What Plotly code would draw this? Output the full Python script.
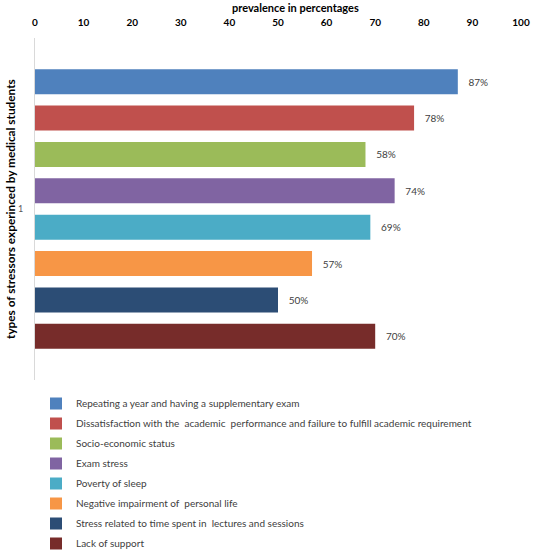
import plotly.graph_objects as go

categories = ["1"]
stressors = [
    "Repeating a year and having a supplementary exam",
    "Dissatisfaction with the  academic  performance and failure to fulfill academic requirement",
    "Socio-economic status",
    "Exam stress",
    "Poverty of sleep",
    "Negative impairment of  personal life",
    "Stress related to time spent in  lectures and sessions",
    "Lack of support",
]
values = [87, 78, 68, 74, 69, 57, 50, 70]
value_labels = ["87%", "78%", "58%", "74%", "69%", "57%", "50%", "70%"]
colors = ["#4F81BD", "#C0504D", "#9BBB59", "#8064A2", "#4BACC6", "#F79646", "#2C4D75", "#772C2A"]
x_ticks = [0, 10, 20, 30, 40, 50, 60, 70, 80, 90, 100]

FONT = "Lato, 'Open Sans', sans-serif"
W, H = 533, 553
ML, MR, MT, MB = 35, 12, 38, 173

fig = go.Figure()
for name, v, lab, c in zip(stressors, values, value_labels, colors):
    fig.add_trace(go.Bar(
        y=categories, x=[v], name=name, orientation="h",
        marker=dict(color=c, line=dict(width=0)),
        text=["   " + lab], textposition="outside", cliponaxis=False,
        textfont=dict(size=10, color="#404040", family=FONT),
        legendgroup=name,
    ))

fig.update_layout(
    width=W, height=H,
    margin=dict(l=ML, r=MR, t=MT, b=MB, autoexpand=False),
    paper_bgcolor="white", plot_bgcolor="white",
    barmode="group", bargap=0.149, bargroupgap=0.313,
    font=dict(family=FONT, color="#404040"),
    xaxis=dict(
        side="top", range=[0, 100], tickvals=x_ticks,
        ticktext=["<b>%d</b>" % t for t in x_ticks],
        tickfont=dict(size=10, color="#000000"),
        showgrid=False, zeroline=False, showline=False,
        ticks="outside", ticklen=7, tickcolor="rgba(0,0,0,0)",
        automargin=False,
    ),
    yaxis=dict(
        autorange="reversed", showgrid=False, zeroline=False,
        showline=True, linecolor="#D9D9D9", linewidth=1,
        ticks="outside", ticklen=9, tickcolor="rgba(0,0,0,0)",
        tickfont=dict(size=9, color="#595959"), automargin=False,
    ),
    annotations=[
        dict(text="<b>prevalence in percentages</b>", xref="paper", yref="paper",
             x=(295 - ML) / (W - ML - MR), y=1 + (MT - 7) / (H - MT - MB),
             xanchor="center", yanchor="middle", showarrow=False,
             font=dict(size=11, color="#000000", family=FONT)),
        dict(text="<b>types of stressors experinced by medical students</b>",
             xref="paper", yref="paper", textangle=-90,
             x=-(ML - 10) / (W - ML - MR), y=1 - (209 - MT) / (H - MT - MB),
             xanchor="center", yanchor="middle", showarrow=False,
             font=dict(size=11.8, color="#000000", family=FONT)),
    ],
    showlegend=True,
    legend=dict(
        orientation="v", xref="container", yref="container",
        x=36 / W, xanchor="left", y=1 - 389 / H, yanchor="top",
        traceorder="grouped", tracegroupgap=1,
        font=dict(size=10, color="#404040", family=FONT),
        itemwidth=30, bgcolor="rgba(0,0,0,0)",
    ),
)

fig.write_html("out.html", config={"displayModeBar": False},
               post_script="document.body.style.margin='0';")
